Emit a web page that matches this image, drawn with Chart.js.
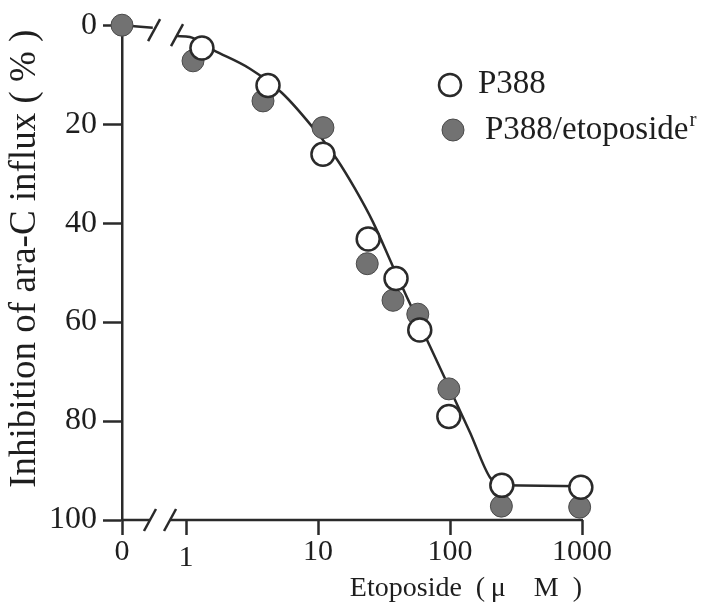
<!DOCTYPE html>
<html><head><meta charset="utf-8">
<script src="https://cdn.jsdelivr.net/npm/chart.js@4.4.1/dist/chart.umd.min.js"></script>
<style>html,body{margin:0;padding:0;background:#fff;}canvas{display:block;}</style>
</head><body>
<canvas id="c" width="702" height="609"></canvas>
<script>
// ---- data (concentration in µM, inhibition in %) ----
const X_TICK_VALUES = [0, 1, 10, 100, 1000];
const X_TICK_LABELS = ['0', '1', '10', '100', '1000'];
const Y_TICK_STEP = 20;

const P388_X = [1.32, 4.18, 10.9, 24, 39, 59, 98, 247, 980];
const P388_Y = [4.6, 12.2, 26.1, 43.2, 51.2, 61.6, 79.1, 93.0, 93.4];

const RES_X = [0, 1.13, 3.83, 10.9, 23.6, 37, 57, 98, 245, 960];
const RES_Y = [0, 7.2, 15.3, 20.7, 48.2, 55.6, 58.4, 73.5, 97.2, 97.4];

// fitted curve
const LEAD_X = [0, 0.56];
const LEAD_Y = [0, 0.5];
const CURVE_X = [0.855, 1.07, 1.6, 3.05, 5.34, 9.82, 13.9, 19.1, 26.1, 37, 47.2, 70.5, 96.6, 141.8, 201, 248];
const CURVE_Y = [2.2, 2.4, 5.0, 8.8, 13.7, 21.7, 27.1, 33.1, 39.8, 48.8, 55.0, 64.9, 72.7, 82.3, 91.4, 93.0];
const FLAT_X = [248, 980];
const FLAT_Y = [93.0, 93.2];

// ---- broken log axis mapping ----
const ZERO_POS = -0.485;               // where 0 sits, in decades
const AXIS_BREAKS = [-0.273, -0.121];   // x-axis break marks (decades)
const TOP_BREAKS = [[-0.242, 1.0], [-0.068, 2.0]]; // break marks on curve
function toAxis(v) { return v <= 0 ? ZERO_POS : Math.log10(v); }
function pts(xs, ys) { return xs.map((v, i) => ({ x: toAxis(v), y: ys[i] })); }

const INK = '#2a2a2a';
const SERIF = "'Liberation Serif', 'Times New Roman', serif";

const decor = {
  id: 'decor',
  beforeDatasetsDraw(chart) {
    const { ctx, scales: { x, y } } = chart;
    ctx.save();
    ctx.strokeStyle = INK;
    ctx.lineWidth = 2.5;
    const yb = y.getPixelForValue(100);
    const x0 = x.getPixelForValue(ZERO_POS);
    const b1 = x.getPixelForValue(AXIS_BREAKS[0]);
    const b2 = x.getPixelForValue(AXIS_BREAKS[1]);
    const xe = x.getPixelForValue(3);
    ctx.beginPath();
    ctx.moveTo(x0 - 1, yb); ctx.lineTo(b1, yb);
    ctx.moveTo(b2, yb); ctx.lineTo(xe + 1, yb);
    ctx.stroke();
    const slash = (cx, cy) => {
      ctx.beginPath();
      ctx.moveTo(cx - 6, cy + 11); ctx.lineTo(cx + 6, cy - 11);
      ctx.stroke();
    };
    slash(b1, yb); slash(b2, yb);
    TOP_BREAKS.forEach(([u, v]) => slash(x.getPixelForValue(u), y.getPixelForValue(v)));
    ctx.restore();
  },
  afterDraw(chart) {
    const ctx = chart.ctx;
    ctx.save();
    // open marker
    ctx.beginPath();
    ctx.arc(450, 85, 11, 0, Math.PI * 2);
    ctx.fillStyle = '#fff'; ctx.fill();
    ctx.lineWidth = 2.5; ctx.strokeStyle = INK; ctx.stroke();
    // filled marker
    ctx.beginPath();
    ctx.arc(453, 130, 11, 0, Math.PI * 2);
    ctx.fillStyle = '#727272'; ctx.fill();
    ctx.lineWidth = 1; ctx.strokeStyle = '#4a4a4a'; ctx.stroke();
    ctx.fillStyle = '#1e1e1e';
    ctx.textBaseline = 'middle';
    ctx.textAlign = 'left';
    ctx.font = '33px ' + SERIF;
    ctx.fillText('P388', 478, 84);
    const t2 = 'P388/etoposide';
    ctx.fillText(t2, 485, 130);
    const w = ctx.measureText(t2).width;
    ctx.font = '21px ' + SERIF;
    ctx.fillText('r', 485 + w + 1, 120);
    ctx.restore();
  }
};

new Chart(document.getElementById('c'), {
  type: 'scatter',
  data: {
    datasets: [
      { label: 'lead', data: pts(LEAD_X, LEAD_Y), showLine: true, pointRadius: 0,
        borderColor: INK, borderWidth: 2.5, clip: false, order: 5 },
      { label: 'fit', data: pts(CURVE_X, CURVE_Y), showLine: true, pointRadius: 0,
        borderColor: INK, borderWidth: 2.5, cubicInterpolationMode: 'monotone', clip: false, order: 4 },
      { label: 'flat', data: pts(FLAT_X, FLAT_Y), showLine: true, pointRadius: 0,
        borderColor: INK, borderWidth: 2.5, clip: false, order: 3 },
      { label: 'P388/etoposide r', data: pts(RES_X, RES_Y), pointRadius: 11,
        pointBackgroundColor: '#727272', pointBorderColor: '#4a4a4a', pointBorderWidth: 1,
        clip: false, order: 2 },
      { label: 'P388', data: pts(P388_X, P388_Y), pointRadius: 11.5,
        pointBackgroundColor: '#ffffff', pointBorderColor: INK, pointBorderWidth: 2.5,
        clip: false, order: 1 }
    ]
  },
  options: {
    responsive: false,
    animation: false,
    devicePixelRatio: 1,
    events: [],
    layout: { padding: { top: 22, right: 120, bottom: 0, left: 0 } },
    plugins: { legend: { display: false }, tooltip: { enabled: false } },
    scales: {
      x: {
        type: 'linear', min: ZERO_POS, max: 3,
        afterBuildTicks: (s) => { s.ticks = X_TICK_VALUES.map(v => ({ value: toAxis(v) })); },
        afterFit: (s) => { s.height = 89; },
        border: { display: false },
        grid: { drawOnChartArea: false, drawTicks: true, tickLength: 15, tickColor: INK, tickWidth: 2.5 },
        ticks: {
          color: '#1e1e1e', padding: 2, maxRotation: 0, autoSkip: false,
          font: (c) => ({ family: SERIF, size: 30, lineHeight: c.index === 1 ? '14px' : 1 }),
          callback: (v, i) => i === 1 ? ['', X_TICK_LABELS[i]] : X_TICK_LABELS[i]
        },
        title: { display: true, text: 'Etoposide\u2002(\u2009\u03bc\u2002\u2002M\u2002)', align: 'end', color: '#1e1e1e',
          font: { family: SERIF, size: 28, lineHeight: 1.2 }, padding: { top: 0, bottom: 4 } }
      },
      y: {
        type: 'linear', min: 0, max: 100, reverse: true,
        afterFit: (s) => { s.width = 122; },
        border: { display: true, color: INK, width: 2.5 },
        grid: { drawOnChartArea: false, drawTicks: true, tickLength: 19, tickColor: INK, tickWidth: 2.5 },
        ticks: { stepSize: Y_TICK_STEP, color: '#1e1e1e', padding: 6, font: { family: SERIF, size: 32 } },
        title: { display: true, text: '\u0020\u0020\u0020Inhibition of ara-C influx ( % )', align: 'center', color: '#1e1e1e',
          font: { family: SERIF, size: 37, lineHeight: 1.2 }, padding: { top: 3, bottom: 0 } }
      }
    }
  },
  plugins: [decor]
});
</script>
</body></html>
